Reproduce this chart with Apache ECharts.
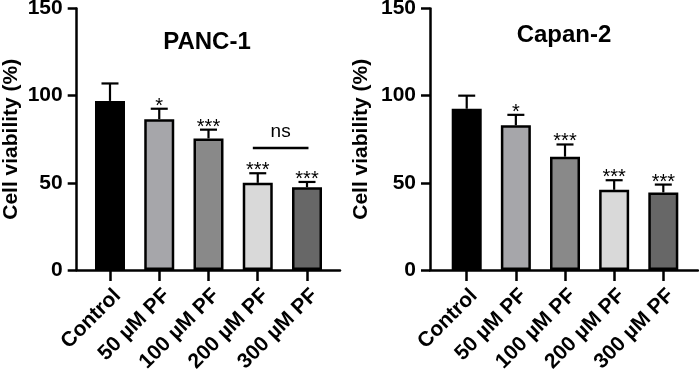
<!DOCTYPE html>
<html>
<head>
<meta charset="utf-8">
<script src="https://cdn.jsdelivr.net/npm/echarts@6/dist/echarts.min.js"></script>
<style>
  html, body { margin: 0; padding: 0; background: #fff; }
  #chart { width: 699px; height: 371px; }
</style>
</head>
<body>
<div id="chart"></div>
<script>
// data
const categories = ['Control', '50 µM PF', '100 µM PF', '200 µM PF', '300 µM PF'];
const barColors = ['#000000', '#a6a6aa', '#898989', '#d9d9d9', '#676767'];

const panc1Mean = [97, 86.5, 75.5, 50, 47.5];
const panc1Err  = [10, 6, 5, 5.5, 3];
const panc1Sig  = ['', '*', '***', '***', '***'];
const panc1Ns   = [3, 4, 70];   // group a, group b, bracket height
const nsLabel   = 'ns';

const capan2Mean = [92.5, 83, 65, 46, 44.5];
const capan2Err  = [7.5, 6, 7, 5.5, 4.5];
const capan2Sig  = ['', '*', '***', '***', '***'];

const FONT = 'Arial, "Liberation Sans", Helvetica, sans-serif';
const chart = echarts.init(document.getElementById('chart'));

const panels = [
  { title: 'PANC-1', titleX: 207, titleTop: 30, mean: panc1Mean, err: panc1Err, sig: panc1Sig,
    left: 76.7, width: 263.3, xMin: -0.676, xMax: 4.67, nameGap: 55 },
  { title: 'Capan-2', titleX: 564, titleTop: 23, mean: capan2Mean, err: capan2Err, sig: capan2Sig,
    left: 430, width: 268, xMin: -0.747, xMax: 4.706, nameGap: 58 }
];

const errorRender = (sigs) => (params, api) => {
  const i = api.value(0);
  const base = api.coord([i, api.value(1)]);
  const top = api.coord([i, api.value(1) + api.value(2)]);
  const lineStyle = { stroke: '#000', lineWidth: 2.2 };
  const children = [
    { type: 'line', shape: { x1: base[0], y1: base[1], x2: top[0], y2: top[1] }, style: lineStyle },
    { type: 'line', shape: { x1: top[0] - 8.5, y1: top[1], x2: top[0] + 8.5, y2: top[1] }, style: lineStyle }
  ];
  if (sigs[i]) {
    children.push({
      type: 'text', x: top[0], y: top[1] - 2.5,
      style: { text: sigs[i], fill: '#000', font: '20px ' + FONT,
               align: 'center', verticalAlign: 'middle', textAlign: 'center', textVerticalAlign: 'middle' }
    });
  }
  return { type: 'group', children };
};

const nsRender = (params, api) => {
  const y = api.value(2);
  const p1 = api.coord([api.value(0) - 0.1, y]);
  const p2 = api.coord([api.value(1) + 0.03, y]);
  return {
    type: 'group',
    children: [
      { type: 'line', shape: { x1: p1[0], y1: p1[1], x2: p2[0], y2: p2[1] }, style: { stroke: '#000', lineWidth: 2.5 } },
      { type: 'text', x: (p1[0] + p2[0]) / 2, y: p1[1] - 16,
        style: { text: nsLabel, fill: '#000', font: '19px ' + FONT,
                 align: 'center', verticalAlign: 'middle', textAlign: 'center', textVerticalAlign: 'middle' } }
    ]
  };
};

const option = {
  animation: false,
  title: panels.map(p => ({
    text: p.title, left: p.titleX, top: p.titleTop, textAlign: 'center', padding: 0,
    textStyle: { fontFamily: FONT, fontSize: 24, fontWeight: 'bold', color: '#000' }
  })),
  grid: panels.map(p => ({ left: p.left, top: 8.5, width: p.width, height: 261.5, outerBoundsMode: 'none', containLabel: false })),
  xAxis: panels.map((p, k) => ({
    type: 'value', gridIndex: k, min: p.xMin, max: p.xMax,
    splitLine: { show: false },
    axisLine: { show: true, onZero: false, lineStyle: { color: '#000', width: 2.5 } },
    axisTick: { show: true, customValues: [0, 1, 2, 3, 4], length: 11, lineStyle: { color: '#000', width: 2.5 } },
    axisLabel: {
      customValues: [0, 1, 2, 3, 4], formatter: v => categories[Math.round(v)],
      rotate: 45, margin: 15, verticalAlign: 'top',
      color: '#000', fontFamily: FONT, fontSize: 21, fontWeight: 'bold'
    }
  })),
  yAxis: panels.map((p, k) => ({
    type: 'value', gridIndex: k, min: 0, max: 150, interval: 50,
    name: 'Cell viability (%)', nameLocation: 'middle', nameGap: p.nameGap,
    nameTextStyle: { fontFamily: FONT, fontSize: 21, fontWeight: 'bold', color: '#000' },
    splitLine: { show: false },
    axisLine: { show: true, onZero: false, lineStyle: { color: '#000', width: 2.5 } },
    axisTick: { show: true, length: 9, lineStyle: { color: '#000', width: 2.5 } },
    axisLabel: { margin: 14, color: '#000', fontFamily: FONT, fontSize: 21, fontWeight: 'bold' }
  })),
  series: []
};

panels.forEach((p, k) => {
  option.series.push({
    type: 'bar', xAxisIndex: k, yAxisIndex: k, barWidth: 30,
    data: p.mean.map((m, i) => ({
      value: [i, m],
      itemStyle: { color: barColors[i], borderColor: '#000', borderWidth: 2.5 }
    })),
    z: 2
  });
  option.series.push({
    type: 'custom', xAxisIndex: k, yAxisIndex: k, z: 3,
    renderItem: errorRender(p.sig),
    data: p.mean.map((m, i) => [i, m, p.err[i]])
  });
});

option.series.push({
  type: 'custom', xAxisIndex: 0, yAxisIndex: 0, z: 3,
  renderItem: nsRender,
  data: [panc1Ns]
});

chart.setOption(option);
</script>
</body>
</html>
